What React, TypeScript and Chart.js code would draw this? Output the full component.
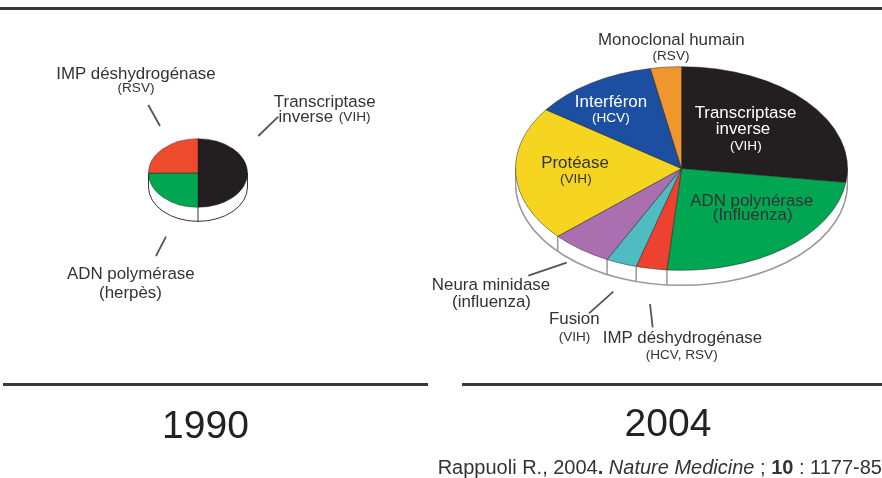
import React, { useEffect, useRef } from "react";
import { Chart, registerables } from "chart.js";

Chart.register(...registerables);

// ---- data ----
const categories1990 = ["Transcriptase inverse (VIH)", "ADN polymérase (herpès)", "IMP déshydrogénase (RSV)"];
const values1990 = [50, 25, 25];
const colors1990 = ["#231f20", "#00a651", "#ee4a2e"];

const categories2004 = [
  "Transcriptase inverse (VIH)",
  "ADN polynérase (Influenza)",
  "IMP déshydrogénase (HCV, RSV)",
  "Fusion (VIH)",
  "Neura minidase (influenza)",
  "Protéase (VIH)",
  "Interféron (HCV)",
  "Monoclonal humain (RSV)",
];
const values2004 = [27.2, 24.2, 3, 3, 6, 21.4, 12.2, 3];
const colors2004 = ["#231f20", "#00a651", "#ee4130", "#4fbcc2", "#a96fb0", "#f6d520", "#1c4fa1", "#f0962e"];

const labelTexts = [
  "IMP déshydrogénase", "(RSV)", "Transcriptase", "inverse", "(VIH)", "ADN polymérase", "(herpès)",
  "Monoclonal humain", "(RSV)", "Transcriptase", "inverse", "(VIH)", "Interféron", "(HCV)", "Protéase", "(VIH)",
  "ADN polynérase", "(Influenza)", "Neura minidase", "(influenza)", "Fusion", "(VIH)", "IMP déshydrogénase", "(HCV, RSV)",
];
const yearLabels = ["1990", "2004"];

// ---- layout (separate from the data) ----
const BIG = 16.9;
const SMALL = 13.6;
const DARK = "#333333";
const labelLayout: [number, number, number, string][] = [
  [136, 73.5, BIG, DARK], [136, 88, SMALL, DARK], [324.7, 101.7, BIG, DARK], [305.8, 117, BIG, DARK], [354.7, 117, SMALL, DARK],
  [130.8, 274, BIG, DARK], [130.5, 292.7, BIG, DARK],
  [671.3, 40.2, BIG, DARK], [671, 56, SMALL, DARK], [745.5, 112.7, BIG, "#fff"], [743, 129.3, BIG, "#fff"], [745.8, 146, SMALL, "#fff"],
  [611, 101.7, BIG, "#fff"], [610.8, 117.7, SMALL, "#fff"], [575, 163.3, BIG, DARK], [575.8, 179.3, SMALL, DARK],
  [751.7, 200.5, BIG, DARK], [752.7, 215, BIG, DARK], [491, 285, BIG, DARK], [491.5, 301.7, BIG, DARK], [574.3, 319.3, BIG, DARK],
  [574.5, 336.7, SMALL, DARK], [682.5, 338.3, BIG, DARK], [681.7, 355, SMALL, DARK],
];
const leaders = [
  [148.3, 105, 160, 126], [258.3, 136, 278.3, 116.7], [166, 236.7, 156, 256],
  [528.3, 275.7, 566.7, 262.7], [589, 313.3, 613.3, 291.7], [650, 304, 652.7, 327.3],
];
const rules = [
  [0, 7, 882, 3], [3, 383, 425, 3], [462, 383, 420, 3],
];

type PieProps = {
  labels: string[]; values: number[]; colors: string[];
  cx: number; cy: number; rx: number; ry: number; depth: number;
  rim: string; rimWidth: number; border: string;
};

function Pie({ labels, values, colors, cx, cy, rx, ry, depth, rim, rimWidth, border }: PieProps) {
  const ref = useRef<HTMLCanvasElement | null>(null);
  const side = Math.ceil(2 * rx + 2);
  useEffect(() => {
    const k = ry / rx;
    const squash = {
      id: "squash",
      beforeDatasetsDraw(chart: any) {
        const { ctx } = chart;
        const arc = chart.getDatasetMeta(0).data[0];
        const x = arc.x, y = arc.y, r = arc.outerRadius, ryy = r * k;
        ctx.save();
        ctx.beginPath();
        ctx.moveTo(x - r, y);
        ctx.lineTo(x - r, y + depth);
        ctx.ellipse(x, y + depth, r, ryy, 0, Math.PI, 0, true);
        ctx.lineTo(x + r, y);
        ctx.closePath();
        ctx.fillStyle = "#ffffff";
        ctx.fill();
        ctx.strokeStyle = rim;
        ctx.lineWidth = rimWidth;
        ctx.stroke();
        ctx.beginPath();
        chart.getDatasetMeta(0).data.forEach((a: any) => {
          const s = Math.sin(a.endAngle);
          if (s > 0.3) {
            const px = x + Math.cos(a.endAngle) * r;
            const py = y + s * ryy;
            ctx.moveTo(px, py);
            ctx.lineTo(px, py + depth);
          }
        });
        ctx.stroke();
        ctx.restore();
        ctx.save();
        ctx.translate(x, y);
        ctx.scale(1, k);
        ctx.translate(-x, -y);
      },
      afterDatasetsDraw(chart: any) {
        chart.ctx.restore();
      },
    };
    const chart = new Chart(ref.current as HTMLCanvasElement, {
      type: "pie",
      data: {
        labels,
        datasets: [{ data: values, backgroundColor: colors, borderColor: border, borderWidth: 1 }],
      },
      options: {
        animation: false,
        responsive: false,
        layout: { padding: 0 },
        plugins: { legend: { display: false }, tooltip: { enabled: false } },
      },
      plugins: [squash],
    } as any);
    return () => chart.destroy();
  }, []);
  return (
    <canvas
      ref={ref}
      width={side}
      height={side}
      style={{ position: "absolute", left: cx - side / 2, top: cy - side / 2, width: side, height: side }}
    />
  );
}

const textBase: React.CSSProperties = {
  position: "absolute",
  transform: "translate(-50%,-50%)",
  whiteSpace: "nowrap",
  lineHeight: 1,
  fontFamily: "'Liberation Sans', Arial, sans-serif",
};

export default function App() {
  useEffect(() => {
    document.body.style.margin = "0";
    document.body.style.background = "#fff";
  }, []);
  return (
    <div style={{ position: "fixed", left: 0, top: 0, width: 882, height: 478, overflow: "hidden", background: "#fff" }}>
      <Pie labels={categories1990} values={values1990} colors={colors1990} cx={198} cy={172.5} rx={49} ry={34} depth={14} rim="#333" rimWidth={1} border="rgba(30,30,30,0.5)" />
      <Pie labels={categories2004} values={values2004} colors={colors2004} cx={681.5} cy={168.5} rx={165.5} ry={101.5} depth={15} rim="#999999" rimWidth={1.5} border="rgba(30,30,30,0.6)" />
      <svg width={882} height={478} style={{ position: "absolute", left: 0, top: 0 }}>
        {leaders.map((l, i) => (
          <line key={i} x1={l[0]} y1={l[1]} x2={l[2]} y2={l[3]} stroke="#555" strokeWidth={1.8} />
        ))}
        {rules.map((r, i) => (
          <rect key={i} x={r[0]} y={r[1]} width={r[2]} height={r[3]} fill="#3a3a3a" />
        ))}
      </svg>
      {labelTexts.map((t, i) => {
        const [x, y, size, color] = labelLayout[i];
        return (
          <div key={i} style={{ ...textBase, left: x, top: y, fontSize: size, color }}>{t}</div>
        );
      })}
      <div style={{ ...textBase, left: 205.5, top: 424, fontSize: 39, color: "#222" }}>{yearLabels[0]}</div>
      <div style={{ ...textBase, left: 668, top: 422, fontSize: 39, color: "#222" }}>{yearLabels[1]}</div>
      <div style={{ ...textBase, transform: "translateY(-50%)", right: 0, top: 467, fontSize: 20, color: DARK }}>
        Rappuoli R., 2004<b>.</b> <i>Nature Medicine</i> ; <b>10</b> : 1177-85
      </div>
    </div>
  );
}
